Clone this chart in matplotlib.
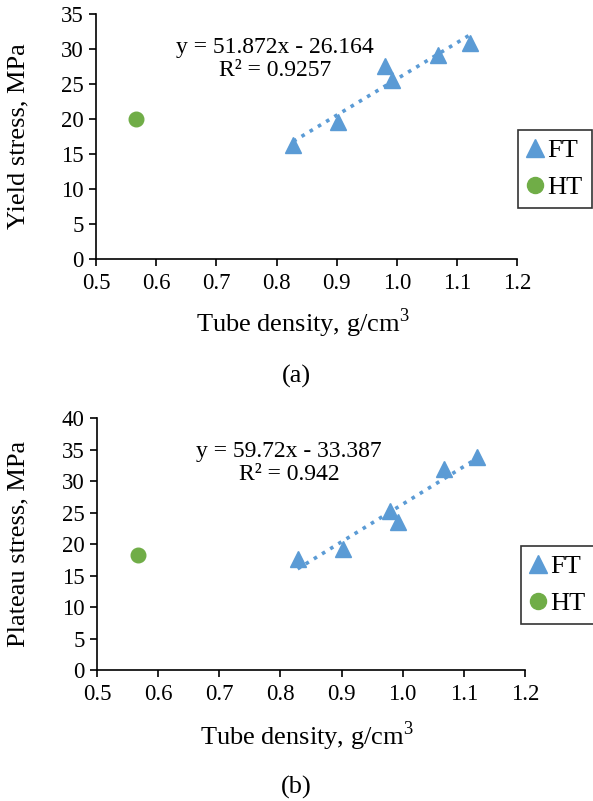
import numpy as np
import matplotlib
matplotlib.use('Agg')
import matplotlib.pyplot as plt

plt.rcParams['font.family'] = ['Liberation Serif', 'DejaVu Serif']
plt.rcParams['mathtext.fontset'] = 'custom'
plt.rcParams['mathtext.rm'] = 'Liberation Serif'

# FT tubes
ft_density = [0.828, 0.902, 0.980, 0.992, 1.068, 1.122]
ft_yield = [16.2, 19.6, 27.6, 25.5, 29.1, 30.8]
ft_plateau = [17.6, 19.2, 25.3, 23.5, 32.0, 33.8]
# HT tube
ht_density = [0.567]
ht_yield = [20.0]
ht_plateau = [18.3]

# linear trendlines (slope, intercept, R^2)
yield_fit = (51.872, -26.164, 0.9257)
plateau_fit = (59.72, -33.387, 0.942)

blue = '#5B9BD5'
green = '#70AD47'
tick_fs = 16.5
lab_fs = 19

fig = plt.figure(figsize=(5.93, 8.01), dpi=100)
ax1 = fig.add_axes([0.162, 0.677, 0.710, 0.3055])
ax2 = fig.add_axes([0.164, 0.1635, 0.721, 0.3145])


def draw(ax, ft_y, ht_y, fit, ylabel, ymax, eq_txt, eq_xy, leg_anchor, tag, tag_y):
    ax.plot(ft_density, ft_y, '^', color=blue, ms=11.5, mec=blue, label='FT', zorder=3)
    ax.plot(ht_density, ht_y, 'o', color=green, ms=10.5, mec=green, label='HT', zorder=3)
    xs = np.array([min(ft_density), max(ft_density)])
    ax.plot(xs, fit[0] * xs + fit[1], ':', color=blue, lw=2.6, zorder=2)
    ax.set_xlim(0.5, 1.2)
    ax.set_ylim(0, ymax)
    ax.set_xticks(np.arange(0.5, 1.21, 0.1))
    ax.set_xticklabels(['%.1f' % v for v in np.arange(0.5, 1.21, 0.1)])
    ax.set_yticks(np.arange(0, ymax + 1, 5))
    ax.tick_params(labelsize=tick_fs, direction='out', length=5, width=1.2, colors='black')
    ax.tick_params(axis='x', pad=5)
    ax.tick_params(axis='y', pad=4)
    for s in ['top', 'right']:
        ax.spines[s].set_visible(False)
    for s in ['left', 'bottom']:
        ax.spines[s].set_linewidth(1.2)
    ax.set_xlabel('Tube density, g/cm$^3$', fontsize=lab_fs, va='center')
    ax.set_ylabel(ylabel, fontsize=lab_fs, va='center')
    ax.xaxis.set_label_coords(0.49, -0.262)
    ax.yaxis.set_label_coords(-0.185, 0.5)
    fig.text(eq_xy[0], eq_xy[1], eq_txt, fontsize=17, ha='center', va='center',
             linespacing=1.15)
    leg = ax.legend(loc='center', bbox_to_anchor=leg_anchor, bbox_transform=fig.transFigure,
                    fontsize=lab_fs, frameon=True, fancybox=False, edgecolor='black',
                    handlelength=0.6, handletextpad=0.15, borderpad=0.35, labelspacing=0.5,
                    borderaxespad=0, markerscale=1.1)
    leg.get_frame().set_linewidth(1.2)
    fig.text(0.5, tag_y, tag, fontsize=lab_fs, ha='center', va='center')


draw(ax1, ft_yield, ht_yield, yield_fit, 'Yield stress, MPa', 35,
     'y = %.3fx - %.3f\nR² = %.4f' % (yield_fit[0], -yield_fit[1], yield_fit[2]),
     (275 / 593, 1 - 59 / 801), (555 / 593, 1 - 169 / 801), '(a)', 1 - 376 / 801)
draw(ax2, ft_plateau, ht_plateau, plateau_fit, 'Plateau stress, MPa', 40,
     'y = %.2fx - %.3f\nR² = %.3f' % (plateau_fit[0], -plateau_fit[1], plateau_fit[2]),
     (289 / 593, 1 - 463 / 801), (558 / 593, 1 - 585 / 801), '(b)', 1 - 787 / 801)

fig.savefig('out.png', dpi=100)
